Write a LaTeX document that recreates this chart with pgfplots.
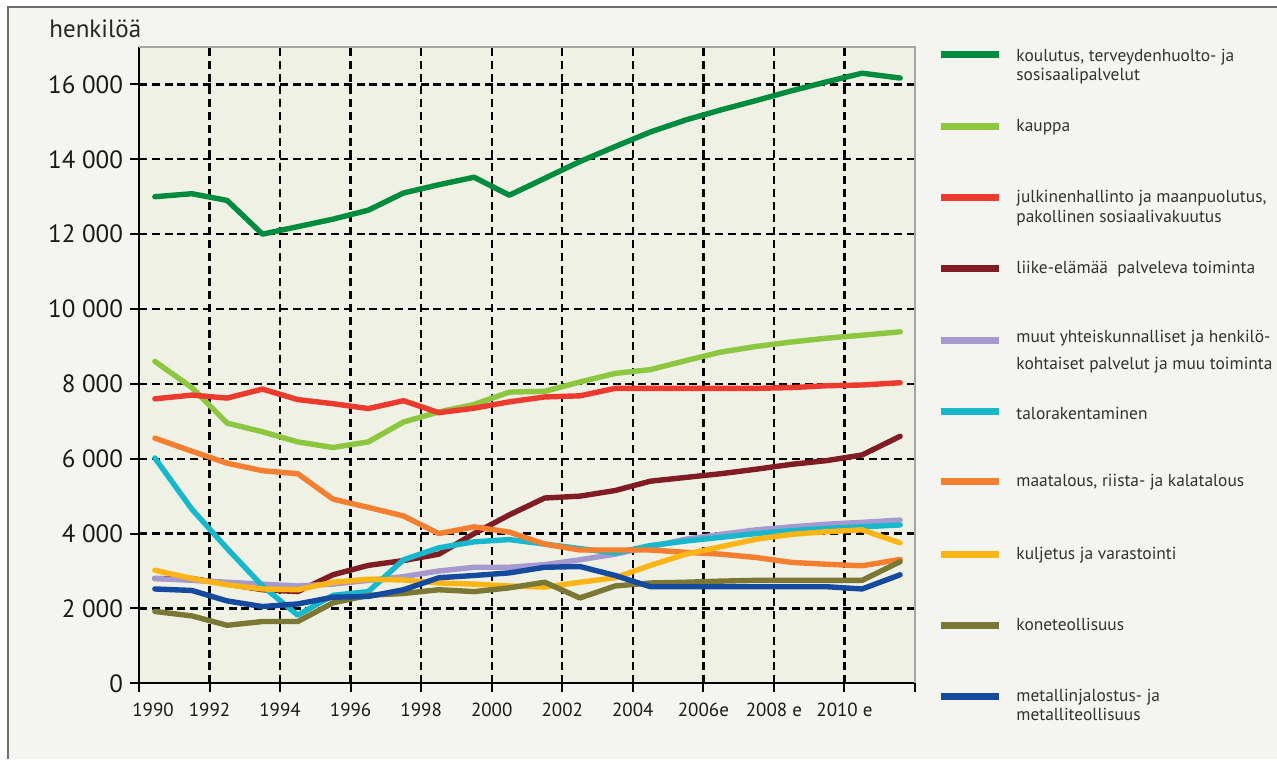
\documentclass[border=0pt]{standalone}
\usepackage{fontspec}
\setmainfont{PT Sans}
\usepackage{pgfplots}
\pgfplotsset{compat=1.18}
\usepackage{pgfplotstable}

\definecolor{cGreen}{RGB}{0,140,62}
\definecolor{cKauppa}{RGB}{141,198,63}
\definecolor{cRed}{RGB}{236,58,47}
\definecolor{cDarkRed}{RGB}{128,28,36}
\definecolor{cPurple}{RGB}{166,153,207}
\definecolor{cCyan}{RGB}{24,184,204}
\definecolor{cOrange}{RGB}{244,127,48}
\definecolor{cYellow}{RGB}{253,181,21}
\definecolor{cOlive}{RGB}{122,120,52}
\definecolor{cBlue}{RGB}{22,74,158}
\definecolor{outerbg}{RGB}{244,245,240}
\definecolor{plotbg}{RGB}{238,241,228}
\definecolor{frame}{RGB}{110,110,110}
\definecolor{txt}{RGB}{50,50,50}

\pgfplotstableread{
x       green  kauppa red   darkred purple cyan  orange yellow olive blue
1990.45 13000  8600   7600  2800    2800   6020  6550   3020   1920  2520
1991.5  13080  7900   7700  2800    2750   4650  6200   2800   1800  2480
1992.5  12900  6950   7620  2650    2700   3600  5880   2630   1550  2200
1993.5  12000  6720   7860  2500    2650   2600  5680   2520   1650  2050
1994.5  12200  6450   7580  2450    2600   1820  5600   2500   1650  2120
1995.5  12400  6300   7470  2900    2650   2350  4920   2700   2150  2300
1996.5  12640  6450   7340  3150    2750   2450  4700   2780   2350  2320
1997.5  13100  6980   7550  3280    2850   3300  4470   2760   2400  2500
1998.5  13320  7250   7230  3450    3000   3620  4000   2680   2500  2820
1999.5  13520  7450   7350  4000    3100   3780  4180   2650   2450  2880
2000.5  13040  7780   7520  4500    3100   3840  4040   2600   2550  2950
2001.5  13490  7800   7650  4950    3170   3720  3720   2570   2700  3100
2002.5  13940  8050   7680  5000    3300   3600  3560   2700   2280  3120
2003.5  14340  8280   7880  5150    3450   3480  3560   2820   2600  2880
2004.5  14730  8380   7880  5400    3650   3680  3560   3150   2680  2580
2005.5  15050  8620   7880  5500    3850   3800  3500   3450   2700  2580
2006.5  15320  8850   7880  5600    3980   3900  3450   3650   2730  2580
2007.5  15570  9000   7880  5720    4100   4000  3360   3850   2750  2580
2008.5  15830  9120   7900  5850    4180   4080  3230   3980   2750  2580
2009.5  16070  9220   7950  5950    4250   4140  3180   4050   2750  2580
2010.5  16300  9300   7970  6100    4300   4180  3140   4100   2750  2520
2011.58 16170  9390   8030  6600    4360   4230  3310   3750   3250  2900
}\datatable

\begin{document}
\begin{tikzpicture}
\useasboundingbox (0,0) rectangle (638.5pt,379.5pt);
\fill[white] (0,0) rectangle (638.5pt,379.5pt);
\fill[outerbg] (4pt,0) rectangle (638.5pt,376pt);
\draw[frame, line width=1pt] (4pt,0) -- (4pt,376pt) -- (638.5pt,376pt);

\node[anchor=base west, inner sep=0, text=black!85, font=\fontsize{12.5}{14}\selectfont] at (24.5pt,360.5pt) {henkilöä};

\begin{axis}[
  at={(69.5pt,37.85pt)}, anchor=south west,
  scale only axis, width=388pt, height=318.15pt,
  xmin=1990, xmax=2012, ymin=0, ymax=17000,
  axis x line*=bottom, axis y line*=left,
  axis line style={-, black, line width=1pt},
  axis background/.style={fill=plotbg},
  xtick={1990,1992,...,2010},
  xticklabels={\hspace{14pt}1990,1992,1994,1996,1998,2000,2002,2004,2006e,2008 e,2010 e},
  extra x ticks={2012}, extra x tick labels={},
  extra x tick style={grid=none},
  ytick={0,2000,...,16000},
  scaled y ticks=false,
  yticklabel={\pgfmathprintnumber[1000 sep={\ }, assume math mode=true]{\tick}},
  tick align=outside, major tick length=4.5pt,
  tick style={black, line width=1pt},
  grid=major,
  major grid style={black, line width=1.15pt, dash pattern=on 4pt off 2.4pt},
  yticklabel style={font=\fontsize{12.5}{14}\selectfont, text=black!90},
  xticklabel style={font=\fontsize{9.5}{11}\selectfont, text=black!90, yshift=-2pt},
  every axis plot/.append style={line width=2.7pt, line join=round, line cap=round},
  clip=false,
  after end axis/.code={
    \draw[black!35, line width=0.8pt] (rel axis cs:0,1) -- (rel axis cs:1,1) -- (rel axis cs:1,0);
  },
]
\addplot[cGreen]   table[x=x, y=green]   {\datatable};
\addplot[cKauppa]  table[x=x, y=kauppa]  {\datatable};
\addplot[cRed]     table[x=x, y=red]     {\datatable};
\addplot[cDarkRed] table[x=x, y=darkred] {\datatable};
\addplot[cPurple]  table[x=x, y=purple]  {\datatable};
\addplot[cCyan]    table[x=x, y=cyan]    {\datatable};
\addplot[cOrange]  table[x=x, y=orange]  {\datatable};
\addplot[cYellow]  table[x=x, y=yellow]  {\datatable};
\addplot[cOlive]   table[x=x, y=olive]   {\datatable};
\addplot[cBlue]    table[x=x, y=blue]    {\datatable};
\end{axis}

% legend
\begin{scope}[every node/.style={anchor=mid west, inner sep=0, text=txt, font=\fontsize{8.7}{10}\selectfont}]
\def\legline#1#2{\draw[#1, line width=3.5pt] (470.5pt,#2) -- (499.5pt,#2);}
\legline{cGreen}{352pt}
\node at (508pt,351pt) {koulutus, terveydenhuolto- ja};
\node at (508pt,341.5pt) {sosisaalipalvelut};
\legline{cKauppa}{316pt}
\node at (508pt,316pt) {kauppa};
\legline{cRed}{280.5pt}
\node at (508pt,280.5pt) {julkinenhallinto ja maanpuolutus,};
\node at (508pt,270.5pt) {pakollinen sosiaalivakuutus};
\legline{cDarkRed}{245pt}
\node at (508pt,245pt) {liike-elämää\ \ palveleva toiminta};
\legline{cPurple}{209pt}
\node at (508pt,210.5pt) {muut yhteiskunnalliset ja henkilö-};
\node at (508pt,197pt) {kohtaiset palvelut ja muu toiminta};
\legline{cCyan}{173.5pt}
\node at (508pt,172pt) {talorakentaminen};
\legline{cOrange}{138.5pt}
\node at (508pt,138.5pt) {maatalous, riista- ja kalatalous};
\legline{cYellow}{102pt}
\node at (508pt,102pt) {kuljetus ja varastointi};
\legline{cOlive}{66.5pt}
\node at (508pt,66.5pt) {koneteollisuus};
\legline{cBlue}{31pt}
\node at (508pt,31pt) {metallinjalostus- ja};
\node at (508pt,22pt) {metalliteollisuus};
\end{scope}
\end{tikzpicture}
\end{document}
